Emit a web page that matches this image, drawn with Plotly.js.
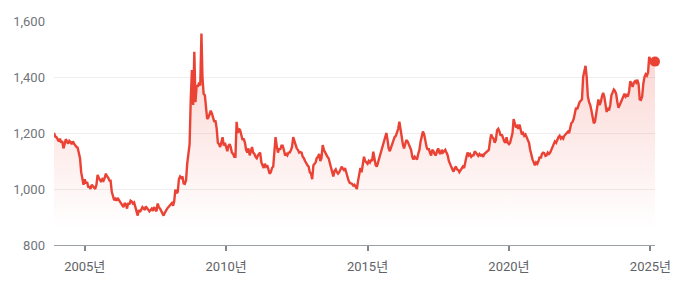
<!DOCTYPE html>
<html>
<head>
<meta charset="utf-8">
<script src="https://cdn.plot.ly/plotly-3.0.1.min.js"></script>
<style>
html,body{margin:0;padding:0;background:#fff;}
#chart{width:681px;height:286px;}
</style>
</head>
<body>
<div id="chart"></div>
<script>
// USD/KRW, semi-monthly readings (1st and 16th of each month)
const r2003 = [1200,1188]; // Dec
const r2004 = [1185,1175,1170,1180,1165,1172,1145,1160,1178,1170,1162,1172,1168,1160,1170,1162,1155,1150,1148,1130,1110,1060,1035,1015];
const r2005 = [1035,1020,1025,1005,1010,1000,1015,1010,1005,1000,1015,1050,1040,1030,1025,1035,1030,1040,1055,1045,1040,1030,1030,990];
const r2006 = [975,960,965,958,968,962,955,948,940,935,950,945,930,950,945,958,955,948,952,940,920,905,925,918];
const r2007 = [928,935,930,925,938,932,928,920,925,930,922,935,928,920,948,935,930,920,912,905,915,925,930,935];
const r2008 = [940,945,950,940,955,998,985,990,1035,1045,1040,1045,1020,1018,1030,1090,1120,1160,1320,1425,1300,1490,1310,1370];
const r2009 = [1365,1380,1370,1555,1400,1340,1335,1300,1250,1255,1270,1280,1270,1250,1240,1245,1215,1165,1160,1150,1175,1185,1155,1165];
const r2010 = [1150,1135,1155,1160,1150,1130,1125,1115,1115,1240,1200,1215,1210,1195,1175,1180,1165,1140,1130,1145,1120,1135,1150,1130];
const r2011 = [1125,1115,1110,1120,1125,1130,1095,1085,1075,1090,1080,1085,1068,1055,1060,1075,1080,1150,1185,1155,1130,1145,1140,1155];
const r2012 = [1155,1140,1120,1125,1120,1130,1130,1138,1150,1185,1170,1155,1145,1140,1130,1132,1130,1115,1110,1100,1090,1085,1080,1060];
const r2013 = [1055,1035,1085,1090,1095,1110,1115,1125,1100,1110,1157,1140,1130,1120,1115,1110,1095,1075,1065,1045,1065,1070,1060,1055];
const r2014 = [1060,1070,1080,1072,1068,1075,1060,1040,1030,1022,1020,1018,1012,1015,1008,1000,1030,1062,1075,1060,1085,1115,1100,1095];
const r2015 = [1090,1100,1095,1105,1100,1133,1100,1085,1080,1095,1110,1125,1140,1160,1170,1185,1200,1175,1145,1135,1150,1160,1170,1185];
const r2016 = [1190,1205,1215,1240,1215,1180,1160,1145,1165,1175,1170,1160,1150,1140,1115,1105,1115,1110,1105,1125,1140,1170,1185,1205];
const r2017 = [1195,1170,1150,1140,1145,1130,1120,1140,1135,1125,1120,1135,1145,1130,1125,1140,1130,1135,1140,1130,1120,1100,1085,1080];
const r2018 = [1070,1062,1075,1080,1070,1068,1060,1068,1072,1080,1075,1100,1115,1130,1120,1125,1115,1120,1120,1135,1130,1125,1118,1125];
const r2019 = [1120,1122,1115,1125,1128,1133,1135,1140,1170,1195,1185,1180,1165,1175,1210,1215,1205,1190,1195,1180,1170,1165,1185,1165];
const r2020 = [1160,1165,1190,1200,1250,1235,1220,1225,1215,1230,1205,1195,1200,1190,1195,1185,1180,1165,1140,1120,1105,1095,1085,1095];
const r2021 = [1090,1100,1115,1110,1125,1130,1128,1118,1120,1130,1125,1130,1140,1150,1155,1170,1165,1180,1185,1190,1180,1185,1180,1190];
const r2022 = [1195,1200,1205,1200,1220,1235,1240,1250,1270,1290,1285,1300,1310,1315,1320,1400,1425,1440,1400,1330,1310,1300,1280,1250];
const r2023 = [1235,1240,1270,1300,1320,1300,1310,1330,1343,1330,1300,1275,1290,1280,1300,1335,1345,1355,1350,1340,1310,1290,1300,1310];
const r2024 = [1320,1335,1340,1330,1335,1330,1350,1385,1375,1365,1380,1385,1380,1390,1375,1320,1318,1330,1375,1400,1410,1405,1415,1472];
const r2025 = [1460,1445,1455,1445,1455]; // Jan 1 .. Mar 1

const xTickVals = ['2005-01-01','2010-01-01','2015-01-01','2020-01-01','2025-01-01'];
const xTickText = ['2005년','2010년','2015년','2020년','2025년'];
const yTickVals = [800,1000,1200,1400,1600];
const yTickText = ['800','1,000','1,200','1,400','1,600'];

const dates = [], vals = [];
function addYear(year, startMonth, arr){
  arr.forEach((v,i)=>{
    const m = startMonth + Math.floor(i/2);
    const d = (i%2) ? 16 : 1;
    dates.push(year + '-' + String(m).padStart(2,'0') + '-' + String(d).padStart(2,'0'));
    vals.push(v);
  });
}
addYear(2003,12,r2003);
[r2004,r2005,r2006,r2007,r2008,r2009,r2010,r2011,r2012,r2013,r2014,r2015,r2016,r2017,r2018,r2019,r2020,r2021,r2022,r2023,r2024,r2025]
  .forEach((arr,k)=>addYear(2004+k,1,arr));

const red = '#ea4335';
const traces = [
  {
    x: dates, y: vals, type: 'scatter', mode: 'lines',
    line: {color: red, width: 2.4},
    fill: 'tozeroy',
    fillgradient: {type: 'vertical', start: 860, stop: 1560,
      colorscale: [[0,'rgba(234,67,53,0)'],[1,'rgba(234,67,53,0.24)']]},
    hoverinfo: 'skip'
  },
  {
    x: [dates[dates.length-1]], y: [vals[vals.length-1]], type: 'scatter', mode: 'markers',
    marker: {color: red, size: 10}, cliponaxis: false, hoverinfo: 'skip'
  }
];

const layout = {
  width: 681, height: 286,
  margin: {l: 54, r: 26, t: 21, b: 41, pad: 0},
  paper_bgcolor: '#fff', plot_bgcolor: '#fff',
  showlegend: false,
  font: {family: "Roboto, 'Noto Sans CJK KR', sans-serif", size: 13, color: '#70757a'},
  xaxis: {
    type: 'date', range: [dates[0], dates[dates.length-1]],
    tickmode: 'array', tickvals: xTickVals, ticktext: xTickText,
    ticks: 'outside', ticklen: 5, tickwidth: 2, tickcolor: '#80868b',
    showline: true, linecolor: '#9aa0a6', linewidth: 1,
    showgrid: false, zeroline: false,
    tickfont: {size: 13, color: '#5f6368'},
    ticklabelstandoff: 4
  },
  yaxis: {
    range: [800, 1600],
    tickmode: 'array', tickvals: yTickVals, ticktext: yTickText,
    showgrid: true, gridcolor: '#eeeeee', gridwidth: 1,
    zeroline: false, showline: false, ticks: '',
    tickfont: {size: 13, color: '#70757a'},
    ticklabelstandoff: 8
  }
};

Plotly.newPlot('chart', traces, layout, {displayModeBar: false, staticPlot: true});
</script>
</body>
</html>
